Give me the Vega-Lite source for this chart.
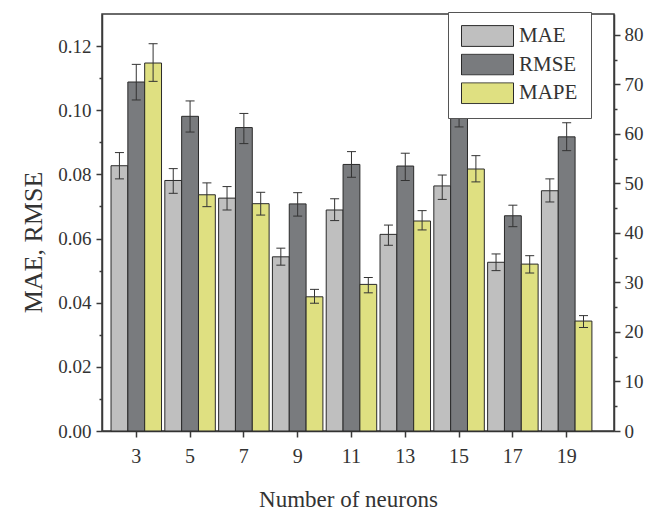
{
  "$schema": "https://vega.github.io/schema/vega-lite/v6.json",
  "width": 512,
  "height": 417,
  "autosize": {"type": "none"},
  "padding": {"left": 102, "top": 14, "right": 43, "bottom": 82},
  "background": "white",
  "config": {
    "view": {"stroke": "#3a3a3a", "strokeWidth": 1.5},
    "font": "Liberation Serif",
    "axis": {
      "labelFont": "Liberation Serif",
      "titleFont": "Liberation Serif",
      "domainColor": "#3a3a3a",
      "domainWidth": 1.5,
      "tickColor": "#3a3a3a",
      "tickWidth": 1.5,
      "labelColor": "#333333",
      "titleColor": "#333333",
      "titleFontWeight": "normal",
      "grid": false
    }
  },
  "data": {
    "values": [
      {"n": 3, "metric": "MAE", "value": 0.0827, "lo": 0.0786, "hi": 0.0868},
      {"n": 3, "metric": "RMSE", "value": 0.1088, "lo": 0.1032, "hi": 0.1143},
      {"n": 3, "metric": "MAPE", "value": 74.3, "lo": 70.6, "hi": 78.2},
      {"n": 5, "metric": "MAE", "value": 0.0781, "lo": 0.0741, "hi": 0.0818},
      {"n": 5, "metric": "RMSE", "value": 0.0981, "lo": 0.0932, "hi": 0.1029},
      {"n": 5, "metric": "MAPE", "value": 47.7, "lo": 45.3, "hi": 50.1},
      {"n": 7, "metric": "MAE", "value": 0.0726, "lo": 0.0689, "hi": 0.0762},
      {"n": 7, "metric": "RMSE", "value": 0.0946, "lo": 0.0896, "hi": 0.099},
      {"n": 7, "metric": "MAPE", "value": 45.9, "lo": 43.6, "hi": 48.2},
      {"n": 9, "metric": "MAE", "value": 0.0543, "lo": 0.0517, "hi": 0.057},
      {"n": 9, "metric": "RMSE", "value": 0.0708, "lo": 0.067, "hi": 0.0743},
      {"n": 9, "metric": "MAPE", "value": 27.1, "lo": 25.8, "hi": 28.6},
      {"n": 11, "metric": "MAE", "value": 0.0689, "lo": 0.0656, "hi": 0.0724},
      {"n": 11, "metric": "RMSE", "value": 0.0831, "lo": 0.0791, "hi": 0.0871},
      {"n": 11, "metric": "MAPE", "value": 29.6, "lo": 27.9, "hi": 31.0},
      {"n": 13, "metric": "MAE", "value": 0.0613, "lo": 0.0579, "hi": 0.0642},
      {"n": 13, "metric": "RMSE", "value": 0.0826, "lo": 0.0781, "hi": 0.0866},
      {"n": 13, "metric": "MAPE", "value": 42.4, "lo": 40.6, "hi": 44.5},
      {"n": 15, "metric": "MAE", "value": 0.0764, "lo": 0.0722, "hi": 0.0798},
      {"n": 15, "metric": "RMSE", "value": 0.0995, "lo": 0.0948, "hi": 0.1042},
      {"n": 15, "metric": "MAPE", "value": 52.9, "lo": 50.3, "hi": 55.6},
      {"n": 17, "metric": "MAE", "value": 0.0526, "lo": 0.05, "hi": 0.0552},
      {"n": 17, "metric": "RMSE", "value": 0.0671, "lo": 0.0637, "hi": 0.0704},
      {"n": 17, "metric": "MAPE", "value": 33.7, "lo": 31.9, "hi": 35.4},
      {"n": 19, "metric": "MAE", "value": 0.0749, "lo": 0.0714, "hi": 0.0786},
      {"n": 19, "metric": "RMSE", "value": 0.0917, "lo": 0.0874, "hi": 0.0961},
      {"n": 19, "metric": "MAPE", "value": 22.2, "lo": 20.9, "hi": 23.3}
    ]
  },
  "layer": [
    {
      "transform": [{"filter": "datum.metric !== 'MAPE'"}],
      "encoding": {
        "x": {
          "field": "n", "type": "ordinal",
          "scale": {"paddingInner": 0.0613, "paddingOuter": 0.289, "align": 0.29},
          "axis": {
            "title": "Number of neurons", "labelAngle": 0, "tickSize": 6,
            "labelFontSize": 20, "labelPadding": 9, "titleFontSize": 23,
            "titleX": 246, "titleY": 75, "titleBaseline": "alphabetic"
          }
        },
        "xOffset": {
          "field": "metric", "type": "nominal",
          "scale": {"domain": ["MAE", "RMSE", "MAPE"], "paddingInner": 0, "paddingOuter": 0}
        }
      },
      "layer": [
        {
          "mark": {"type": "bar", "stroke": "#2a2a2a", "strokeWidth": 1},
          "encoding": {
            "y": {
              "field": "value", "type": "quantitative",
              "scale": {"domain": [0, 0.13], "nice": false},
              "axis": {
                "orient": "left", "title": "MAE, RMSE", "values": [0, 0.02, 0.04, 0.06, 0.08, 0.1, 0.12],
                "format": ".2f", "tickSize": 6, "labelFontSize": 19, "labelPadding": 5,
                "titleFontSize": 26, "titleX": -61, "titleY": 228, "titleBaseline": "alphabetic", "titleAngle": 270
              }
            },
            "fill": {
              "field": "metric", "type": "nominal",
              "scale": {"domain": ["MAE", "RMSE", "MAPE"], "range": ["#bfbfbf", "#797b7e", "#dfe081"]},
              "legend": {
                "title": null, "orient": "none", "legendX": 346, "legendY": -2,
                "padding": 13, "fillColor": "white", "strokeColor": "#555555",
                "symbolType": "M-1,-0.4H1V0.4H-1Z", "symbolSize": 2704, "symbolStrokeColor": "#333333",
                "symbolStrokeWidth": 1, "symbolOpacity": 1, "clipHeight": 22, "rowPadding": 6.6,
                "labelFont": "Liberation Serif", "labelFontSize": 21, "labelColor": "#333333", "labelOffset": 5
              }
            }
          }
        },
        {
          "mark": {"type": "rule", "color": "#333333", "strokeWidth": 1},
          "encoding": {
            "y": {"field": "lo", "type": "quantitative", "scale": {"domain": [0, 0.13], "nice": false}, "axis": {"orient": "left", "title": "MAE, RMSE"}},
            "y2": {"field": "hi"}
          }
        },
        {
          "mark": {"type": "tick", "color": "#333333", "thickness": 1, "size": 9, "opacity": 1},
          "encoding": {
            "y": {"field": "lo", "type": "quantitative", "scale": {"domain": [0, 0.13], "nice": false}, "axis": {"orient": "left", "title": "MAE, RMSE"}}
          }
        },
        {
          "mark": {"type": "tick", "color": "#333333", "thickness": 1, "size": 9, "opacity": 1},
          "encoding": {
            "y": {"field": "hi", "type": "quantitative", "scale": {"domain": [0, 0.13], "nice": false}, "axis": {"orient": "left", "title": "MAE, RMSE"}}
          }
        }
      ]
    },
    {
      "transform": [{"filter": "datum.metric === 'MAPE'"}],
      "encoding": {
        "x": {"field": "n", "type": "ordinal"},
        "xOffset": {"field": "metric", "type": "nominal"}
      },
      "layer": [
        {
          "mark": {"type": "bar", "stroke": "#2a2a2a", "strokeWidth": 1},
          "encoding": {
            "y": {
              "field": "value", "type": "quantitative",
              "scale": {"domain": [0, 84.2], "nice": false},
              "axis": {
                "orient": "right", "title": null, "values": [0, 10, 20, 30, 40, 50, 60, 70, 80],
                "format": "d", "tickSize": 6, "labelFontSize": 19, "labelPadding": 4
              }
            },
            "fill": {"field": "metric", "type": "nominal"}
          }
        },
        {
          "mark": {"type": "rule", "color": "#333333", "strokeWidth": 1},
          "encoding": {
            "y": {"field": "lo", "type": "quantitative", "scale": {"domain": [0, 84.2], "nice": false}, "axis": {"orient": "right", "title": null}},
            "y2": {"field": "hi"}
          }
        },
        {
          "mark": {"type": "tick", "color": "#333333", "thickness": 1, "size": 9, "opacity": 1},
          "encoding": {
            "y": {"field": "lo", "type": "quantitative", "scale": {"domain": [0, 84.2], "nice": false}, "axis": {"orient": "right", "title": null}}
          }
        },
        {
          "mark": {"type": "tick", "color": "#333333", "thickness": 1, "size": 9, "opacity": 1},
          "encoding": {
            "y": {"field": "hi", "type": "quantitative", "scale": {"domain": [0, 84.2], "nice": false}, "axis": {"orient": "right", "title": null}}
          }
        }
      ]
    },
    {
      "transform": [{"filter": "datum.metric !== 'MAPE'"}],
      "mark": {"type": "rule", "opacity": 0},
      "encoding": {
        "y": {
          "field": "value", "type": "quantitative",
          "scale": {"domain": [0, 0.13], "nice": false},
          "axis": {"orient": "left", "title": null, "labels": false, "domain": false, "tickSize": 3,
                   "values": [0.01, 0.03, 0.05, 0.07, 0.09, 0.11]}
        }
      }
    },
    {
      "transform": [{"filter": "datum.metric === 'MAPE'"}],
      "mark": {"type": "rule", "opacity": 0},
      "encoding": {
        "y": {
          "field": "value", "type": "quantitative",
          "scale": {"domain": [0, 84.2], "nice": false},
          "axis": {"orient": "right", "title": null, "labels": false, "domain": false, "tickSize": 3,
                   "values": [5, 15, 25, 35, 45, 55, 65, 75]}
        }
      }
    }
  ],
  "resolve": {"scale": {"y": "independent"}}
}
